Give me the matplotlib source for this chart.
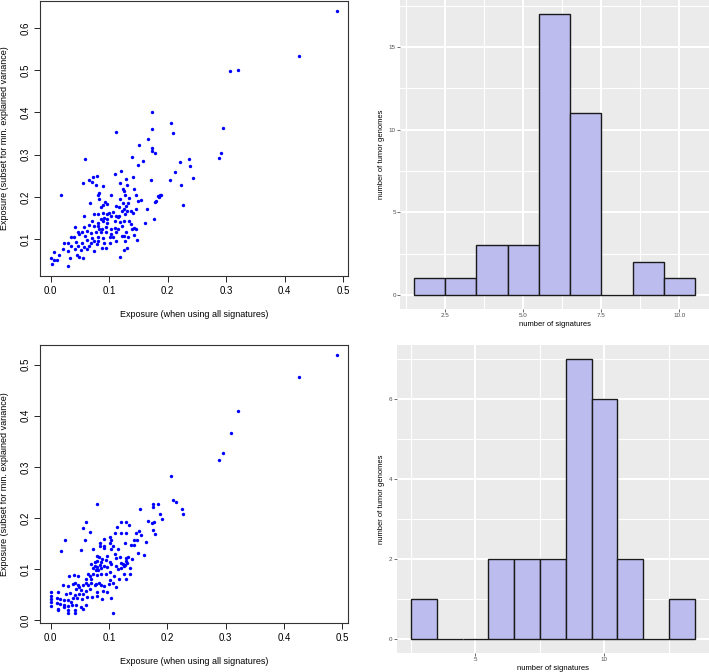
import numpy as np
import matplotlib
matplotlib.use("Agg")
import matplotlib.pyplot as plt
from matplotlib.ticker import MultipleLocator

plt.rcParams['font.family'] = ['Liberation Sans', 'DejaVu Sans']

# exposures (all signatures, subset) - first cohort
top_points = [
    (0.489, 0.639), (0.425, 0.534), (0.307, 0.497), (0.320, 0.501), (0.294, 0.363),
    (0.292, 0.304), (0.287, 0.292),
    (0.112, 0.353), (0.059, 0.290), (0.120, 0.262), (0.109, 0.255), (0.079, 0.250),
    (0.073, 0.247), (0.066, 0.239),
    (0.174, 0.400), (0.205, 0.374), (0.174, 0.360), (0.209, 0.350), (0.167, 0.336),
    (0.151, 0.322), (0.174, 0.316), (0.174, 0.309), (0.178, 0.303), (0.139, 0.294),
    (0.149, 0.276), (0.158, 0.284), (0.221, 0.283), (0.236, 0.289), (0.239, 0.273),
    (0.213, 0.258), (0.140, 0.248), (0.129, 0.243), (0.172, 0.239), (0.204, 0.240),
    (0.243, 0.245),
    (0.055, 0.232), (0.070, 0.235), (0.078, 0.228), (0.089, 0.226), (0.017, 0.205),
    (0.067, 0.185), (0.082, 0.210), (0.080, 0.204), (0.103, 0.205), (0.082, 0.196),
    (0.093, 0.187), (0.089, 0.181), (0.086, 0.177), (0.097, 0.184), (0.111, 0.179),
    (0.057, 0.156), (0.074, 0.160), (0.080, 0.160), (0.089, 0.163), (0.096, 0.160),
    (0.100, 0.163), (0.107, 0.164), (0.103, 0.155), (0.112, 0.156), (0.115, 0.153),
    (0.091, 0.150), (0.086, 0.147), (0.097, 0.147), (0.071, 0.143), (0.080, 0.139),
    (0.089, 0.142), (0.096, 0.139), (0.109, 0.142), (0.042, 0.128), (0.056, 0.129),
    (0.066, 0.133), (0.074, 0.131), (0.081, 0.130), (0.082, 0.125), (0.088, 0.124),
    (0.095, 0.128), (0.103, 0.124), (0.110, 0.127), (0.115, 0.124), (0.046, 0.117),
    (0.053, 0.116), (0.062, 0.119), (0.069, 0.114), (0.077, 0.117), (0.086, 0.116),
    (0.095, 0.116), (0.103, 0.113), (0.112, 0.116), (0.034, 0.106), (0.040, 0.104),
    (0.049, 0.112), (0.058, 0.108), (0.070, 0.103), (0.080, 0.106), (0.089, 0.103),
    (0.101, 0.106), (0.107, 0.106), (0.022, 0.091), (0.030, 0.092), (0.043, 0.094),
    (0.053, 0.092), (0.062, 0.098), (0.069, 0.092), (0.074, 0.095), (0.081, 0.095),
    (0.091, 0.092), (0.101, 0.092), (0.112, 0.095), (0.035, 0.084), (0.046, 0.084),
    (0.057, 0.081), (0.066, 0.084), (0.079, 0.089), (0.087, 0.080), (0.095, 0.080),
    (0.021, 0.077), (0.029, 0.073), (0.041, 0.077), (0.051, 0.075), (0.062, 0.077),
    (0.074, 0.072), (0.006, 0.070), (0.014, 0.062), (0.033, 0.055), (0.045, 0.062),
    (0.048, 0.059), (0.055, 0.055), (0.001, 0.055), (0.006, 0.050), (0.011, 0.050),
    (0.029, 0.037), (0.002, 0.042),
    (0.119, 0.232), (0.130, 0.227), (0.123, 0.218), (0.125, 0.213), (0.143, 0.218),
    (0.127, 0.204), (0.134, 0.197), (0.145, 0.204), (0.150, 0.191), (0.155, 0.192),
    (0.223, 0.227), (0.183, 0.202), (0.186, 0.205), (0.189, 0.205), (0.185, 0.199),
    (0.180, 0.191), (0.178, 0.189), (0.226, 0.182), (0.119, 0.194), (0.124, 0.186),
    (0.132, 0.185), (0.129, 0.178), (0.117, 0.175), (0.126, 0.172), (0.122, 0.166),
    (0.130, 0.166), (0.140, 0.163), (0.137, 0.166), (0.145, 0.172), (0.165, 0.171),
    (0.117, 0.156), (0.127, 0.160), (0.119, 0.141), (0.125, 0.142), (0.133, 0.142),
    (0.138, 0.136), (0.162, 0.139), (0.177, 0.147), (0.121, 0.131), (0.139, 0.124),
    (0.143, 0.127), (0.146, 0.124), (0.129, 0.116), (0.125, 0.108), (0.122, 0.108),
    (0.132, 0.106), (0.142, 0.111), (0.148, 0.098), (0.127, 0.095), (0.125, 0.075),
    (0.130, 0.078), (0.118, 0.059),
]

# exposures (all signatures, subset) - second cohort
bottom_points = [
    (0.490, 0.518), (0.426, 0.476), (0.321, 0.409), (0.309, 0.367), (0.296, 0.327),
    (0.288, 0.314),
    (0.080, 0.228), (0.061, 0.192), (0.056, 0.180), (0.068, 0.172), (0.025, 0.158),
    (0.058, 0.158), (0.113, 0.182), (0.110, 0.171), (0.101, 0.163), (0.092, 0.159),
    (0.103, 0.158), (0.085, 0.152), (0.102, 0.152), (0.084, 0.146), (0.092, 0.146),
    (0.107, 0.146),
    (0.206, 0.282), (0.209, 0.235), (0.215, 0.232), (0.176, 0.228), (0.184, 0.228),
    (0.176, 0.221), (0.153, 0.217), (0.225, 0.217), (0.226, 0.208), (0.187, 0.208),
    (0.191, 0.199), (0.121, 0.192), (0.129, 0.192), (0.134, 0.186), (0.167, 0.194),
    (0.174, 0.190), (0.177, 0.192), (0.176, 0.176), (0.178, 0.169), (0.121, 0.171),
    (0.129, 0.171), (0.146, 0.171), (0.151, 0.175), (0.155, 0.167), (0.147, 0.158),
    (0.142, 0.157), (0.127, 0.152), (0.163, 0.154), (0.137, 0.148), (0.143, 0.148),
    (0.018, 0.135), (0.052, 0.137), (0.092, 0.141), (0.103, 0.139), (0.116, 0.139),
    (0.073, 0.139), (0.110, 0.129), (0.079, 0.125), (0.083, 0.123), (0.087, 0.120),
    (0.075, 0.115), (0.080, 0.116), (0.086, 0.114), (0.097, 0.125), (0.095, 0.118),
    (0.101, 0.115), (0.111, 0.121), (0.069, 0.110), (0.075, 0.107), (0.079, 0.104),
    (0.085, 0.108), (0.072, 0.102), (0.077, 0.099), (0.081, 0.099), (0.086, 0.102),
    (0.092, 0.107), (0.097, 0.104), (0.103, 0.110), (0.111, 0.107), (0.116, 0.100),
    (0.063, 0.090), (0.068, 0.086), (0.073, 0.091), (0.079, 0.089), (0.086, 0.091),
    (0.094, 0.090), (0.101, 0.094), (0.109, 0.086), (0.117, 0.081), (0.032, 0.087),
    (0.039, 0.089), (0.046, 0.087), (0.061, 0.081), (0.069, 0.081), (0.101, 0.078),
    (0.021, 0.070), (0.030, 0.068), (0.038, 0.072), (0.042, 0.073), (0.046, 0.069),
    (0.049, 0.065), (0.055, 0.069), (0.060, 0.073), (0.063, 0.070), (0.069, 0.074),
    (0.075, 0.070), (0.078, 0.072), (0.083, 0.073), (0.086, 0.069), (0.092, 0.068),
    (0.100, 0.072), (0.107, 0.073), (0.111, 0.066), (0.044, 0.062), (0.052, 0.060),
    (0.061, 0.057), (0.068, 0.062), (0.080, 0.056), (0.089, 0.058), (0.097, 0.055),
    (0.001, 0.056), (0.012, 0.056), (0.026, 0.052), (0.033, 0.053), (0.041, 0.049),
    (0.048, 0.052), (0.056, 0.051), (0.038, 0.044), (0.045, 0.043), (0.053, 0.041),
    (0.062, 0.045), (0.070, 0.045), (0.001, 0.048), (0.001, 0.041), (0.010, 0.044),
    (0.016, 0.041), (0.023, 0.039), (0.030, 0.040), (0.034, 0.036), (0.080, 0.047),
    (0.087, 0.041), (0.103, 0.044), (0.001, 0.036), (0.010, 0.034), (0.015, 0.032),
    (0.022, 0.031), (0.029, 0.028), (0.037, 0.031), (0.044, 0.030), (0.052, 0.026),
    (0.060, 0.030), (0.001, 0.028), (0.012, 0.023), (0.022, 0.026), (0.030, 0.020),
    (0.041, 0.020), (0.056, 0.022), (0.029, 0.015), (0.041, 0.015), (0.106, 0.015),
    (0.013, 0.020),
    (0.150, 0.131), (0.160, 0.127), (0.140, 0.120), (0.119, 0.124), (0.129, 0.121),
    (0.132, 0.123), (0.129, 0.117), (0.121, 0.113), (0.124, 0.111), (0.131, 0.112),
    (0.127, 0.108), (0.125, 0.106), (0.120, 0.102), (0.135, 0.103), (0.125, 0.090),
    (0.136, 0.090), (0.129, 0.081),
]

# histogram of number of signatures per tumor genome
top_signatures = [2, 3, 4, 5, 6, 7, 8, 9, 10]
top_counts = [1, 1, 3, 3, 17, 11, 0, 2, 1]
bottom_signatures = [3, 4, 5, 6, 7, 8, 9, 10, 11, 12, 13]
bottom_counts = [1, 0, 0, 2, 2, 2, 7, 6, 2, 0, 1]

xlabel_scatter = 'Exposure (when using all signatures)'
ylabel_scatter = 'Exposure (subset for min. explained variance)'


def scatter_panel(ax, points, yticks):
    x, y = np.array(points).T
    ax.scatter(x, y, s=6, color='blue', linewidths=0)
    xr = x.max() - x.min()
    yr = y.max() - y.min()
    ax.set_xlim(x.min() - 0.04 * xr, x.max() + 0.04 * xr)
    ax.set_ylim(y.min() - 0.04 * yr, y.max() + 0.04 * yr)
    ax.set_xticks([0.0, 0.1, 0.2, 0.3, 0.4, 0.5])
    ax.set_yticks(yticks)
    ax.set_yticklabels([f'{t:.1f}' for t in yticks], rotation=90, va='center')
    ax.tick_params(direction='out', length=4, width=0.6, labelsize=7, pad=3)
    for s in ax.spines.values():
        s.set_linewidth(0.8)
        s.set_color('#333333')
    ax.set_xlabel(xlabel_scatter, fontsize=6.5, labelpad=10)
    ax.set_ylabel(ylabel_scatter, fontsize=6.5, labelpad=8)


def hist_panel(ax, centers, counts, xmajor, ymajor):
    centers = np.array(centers)
    counts = np.array(counts)
    ax.set_facecolor('#EBEBEB')
    lo, hi = centers.min() - 0.5, centers.max() + 0.5
    ax.set_xlim(lo - 0.05 * (hi - lo), hi + 0.05 * (hi - lo))
    ax.set_ylim(-0.05 * counts.max(), 1.05 * counts.max())
    # white ggplot-style grid, major and minor
    for v in np.arange(0, hi + xmajor, xmajor / 2):
        major = np.isclose(v % xmajor, 0)
        ax.axvline(v, color='white', linewidth=1.5 if major else 0.8, zorder=1)
    for v in np.arange(0, counts.max() * 1.05, ymajor / 2):
        major = np.isclose(v % ymajor, 0)
        ax.axhline(v, color='white', linewidth=1.5 if major else 0.8, zorder=1)
    ax.bar(centers, counts, width=1, color='#BCBCEF', edgecolor='#1a1a1a',
           linewidth=1.0, zorder=3)
    ax.xaxis.set_major_locator(MultipleLocator(xmajor))
    ax.yaxis.set_major_locator(MultipleLocator(ymajor))
    if xmajor == 2.5:
        ax.xaxis.set_major_formatter(lambda v, p: f'{v:.1f}')
    else:
        ax.xaxis.set_major_formatter(lambda v, p: f'{v:.0f}')
    for s in ax.spines.values():
        s.set_visible(False)
    ax.tick_params(which='major', length=2, width=0.5, color='#333333',
                   labelsize=4.5, labelcolor='#4D4D4D', pad=1)
    ax.set_xlabel('number of signatures', fontsize=5.5, labelpad=2)
    ax.set_ylabel('number of tumor genomes', fontsize=5.5, labelpad=3)


fig = plt.figure(figsize=(7.09, 6.72), dpi=100)

ax1 = fig.add_axes([0.0564, 0.5893, 0.4344, 0.409])
scatter_panel(ax1, top_points, [0.1, 0.2, 0.3, 0.4, 0.5, 0.6])

ax2 = fig.add_axes([0.5642, 0.5402, 0.4358, 0.46])
hist_panel(ax2, top_signatures, top_counts, 2.5, 5)

ax3 = fig.add_axes([0.0564, 0.0729, 0.4344, 0.4137])
scatter_panel(ax3, bottom_points, [0.0, 0.1, 0.2, 0.3, 0.4, 0.5])

ax4 = fig.add_axes([0.5595, 0.0283, 0.4405, 0.4583])
hist_panel(ax4, bottom_signatures, bottom_counts, 5, 2)

fig.savefig('out.png', dpi=100)
